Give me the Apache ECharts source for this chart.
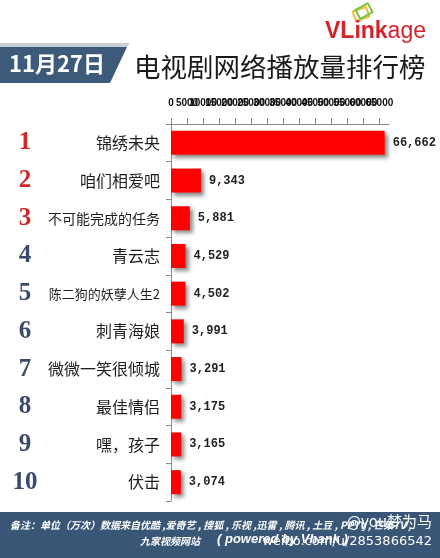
<!DOCTYPE html>
<html>
<head>
<meta charset="utf-8">
<script src="https://cdn.jsdelivr.net/npm/echarts@6/dist/echarts.min.js"></script>
<style>
html,body{margin:0;padding:0;background:#fff;}
#c{width:440px;height:558px;}
</style>
</head>
<body>
<div id="c"></div>
<script>
var categories = ['锦绣未央','咱们相爱吧','不可能完成的任务','青云志','陈二狗的妖孽人生2','刺青海娘','微微一笑很倾城','最佳情侣','嘿，孩子','伏击'];
var values = [66662, 9343, 5881, 4529, 4502, 3991, 3291, 3175, 3165, 3074];
var ranks = ['1','2','3','4','5','6','7','8','9','10'];
var axisMin = 0, axisMax = 68000, axisStep = 5000;
var titleText = '电视剧网络播放量排行榜';
var dateText = '11月27日';
var noteLine1 = '备注：单位（万次）数据来自优酷 ,爱奇艺 , 搜狐 , 乐视 ,迅雷 , 腾讯 , 土豆 , PPTV , 芒果TV ,';
var noteLine2a = '九家视频网站';
var noteLine2b = '( powered by Vhank )';

function fmt(v){ return String(v).replace(/\B(?=(\d{3})+(?!\d))/g, ','); }
var nameSize = [16,16,14,16,13,16,16,16,16,16];

var chart = echarts.init(document.getElementById('c'), null, {renderer:'canvas'});
chart.setOption({
  backgroundColor:'#ffffff',
  animation:false,
  grid:{left:171, right:51, top:124, bottom:57},
  xAxis:{
    type:'value', position:'top', min:axisMin, max:axisMax, interval:axisStep,
    axisLine:{show:true, lineStyle:{color:'#8a8a8a'}},
    axisTick:{show:true, length:6, lineStyle:{color:'#8a8a8a'}},
    splitLine:{show:false},
    axisLabel:{fontSize:10, color:'#111', margin:16, fontWeight:'bold',
      fontFamily:'Liberation Sans Narrow, Liberation Sans',
      formatter:function(v){ return String(v); }}
  },
  yAxis:[{
    type:'category', inverse:true, data:categories,
    axisLine:{show:true, lineStyle:{color:'#8a8a8a'}},
    axisTick:{show:true, length:5, lineStyle:{color:'#8a8a8a'}},
    axisLabel:{margin:11, fontFamily:'Noto Sans CJK SC', color:'#1e1e1e',
      formatter:function(v, i){ return '{s' + nameSize[i] + '|' + v + '}'; },
      rich:{
        s16:{fontSize:16, fontFamily:'Noto Sans CJK SC', color:'#1e1e1e'},
        s14:{fontSize:14, fontFamily:'Noto Sans CJK SC', color:'#1e1e1e'},
        s13:{fontSize:13, fontFamily:'Noto Sans CJK SC', color:'#1e1e1e'}
      }
    }
  },{
    type:'category', inverse:true, data:ranks, position:'left', offset:138,
    axisLine:{show:false}, axisTick:{show:false},
    axisLabel:{margin:8, align:'center', fontSize:25, fontWeight:'bold',
      fontFamily:'Liberation Serif',
      color:function(v, i){ return (+v) <= 3 ? '#d42626' : '#3b4a6c'; }
    }
  }],
  series:[{
    type:'bar', data:values, barWidth:24, yAxisIndex:0,
    itemStyle:{color:'#ff0000', shadowColor:'rgba(0,0,0,0.45)', shadowBlur:4, shadowOffsetX:3, shadowOffsetY:3},
    label:{show:true, position:'right', distance:8, color:'#222', fontSize:12, fontWeight:'bold',
      fontFamily:'Liberation Mono', formatter:function(p){ return fmt(p.value); }}
  }],
  graphic:[
    {type:'polygon', shape:{points:[[0,43],[130,43],[127,47],[0,47]]}, style:{fill:'#c9ced6'}},
    {type:'polygon', shape:{points:[[0,47],[127,47],[110,83],[0,83]]}, style:{fill:'#3d5a7a'}},
    {type:'text', left:9, top:53, style:{text:dateText, fill:'#ffffff', font:'bold 22px "Noto Sans CJK SC"'}},
    {type:'text', left:134, top:54, style:{text:titleText, fill:'#1a1a1a', font:'26.5px "Noto Sans CJK SC"'}},
    {type:'rect', shape:{x:354, y:9, width:14, height:10}, rotation:0.35, originX:361, originY:14, style:{fill:'none', stroke:'#e8c23a', lineWidth:2}},
    {type:'rect', shape:{x:357, y:6, width:14, height:10}, rotation:0.5, originX:364, originY:11, style:{fill:'none', stroke:'#7cc242', lineWidth:2}},
    {type:'text', left:325, top:20, style:{
      text:'{a|VLink}{b|age}',
      rich:{a:{fontSize:23, fontWeight:'bold', fill:'#d6232a', fontFamily:'Liberation Sans'},
            b:{fontSize:23, fill:'#d6232a', fontFamily:'Liberation Sans'}}}},
    {type:'rect', shape:{x:0, y:512, width:440, height:46}, style:{fill:'#3a5677'}},
    {type:'text', left:10, top:520, style:{text:noteLine1, fill:'#ffffff', font:'italic bold 10px "Noto Sans CJK SC"'}},
    {type:'text', left:140, top:536, style:{text:noteLine2a, fill:'#ffffff', font:'italic bold 10px "Noto Sans CJK SC"'}},
    {type:'text', left:217, top:533, style:{text:noteLine2b, fill:'#ffffff', font:'italic bold 13px "Liberation Sans"'}},
    {type:'text', right:8, top:514, style:{text:'@you梦为马', fill:'#ffffff', font:'15px "Noto Sans CJK SC"'}},
    {type:'text', right:8, top:535, style:{text:'weibo.com/u/2853866542', fill:'#ffffff', font:'13px "DejaVu Sans"'}}
  ]
});
</script>
</body>
</html>
